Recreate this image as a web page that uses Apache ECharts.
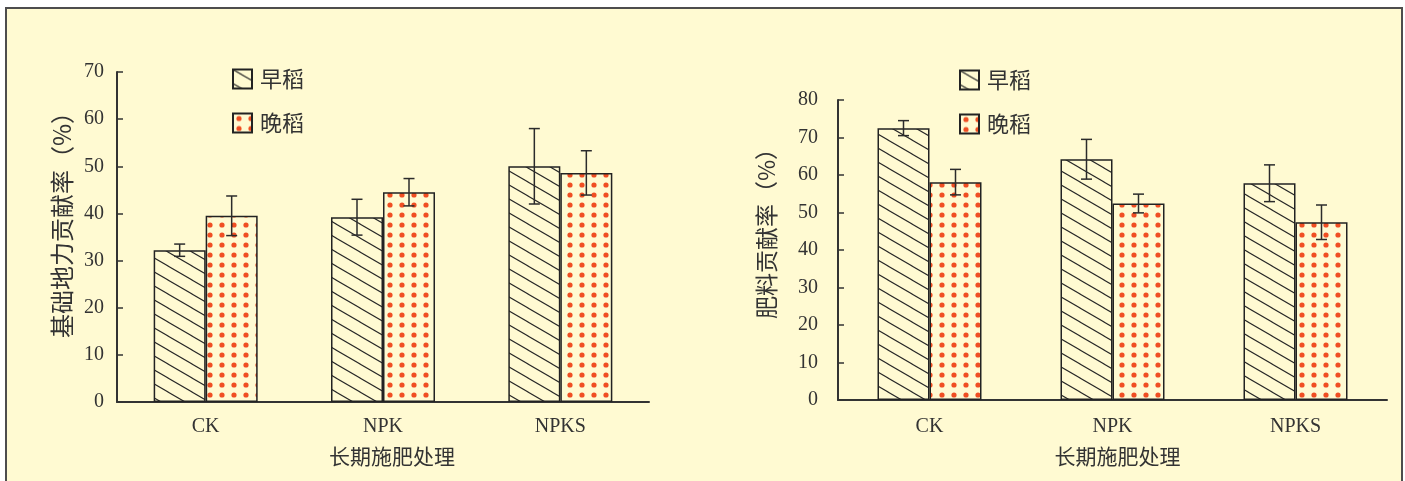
<!DOCTYPE html>
<html>
<head>
<meta charset="utf-8">
<script src="https://cdn.jsdelivr.net/npm/echarts@6/dist/echarts.min.js"></script>
<style>
  html, body { margin: 0; padding: 0; background: #ffffff; }
  #frame { position: absolute; left: 5px; top: 7px; width: 1394px; height: 480px;
           border: 2px solid #4d4d4d; border-bottom: none; background: #FFFAD2; }
  #chart { position: absolute; left: 0; top: 0; width: 1405px; height: 481px; }
</style>
</head>
<body>
<div id="frame"></div>
<div id="chart"></div>
<script>
// ---------------- data ----------------
const categories = ['CK', 'NPK', 'NPKS'];
const seriesNames = ['早稻', '晚稻'];

// left chart: 基础地力贡献率 (%)
const baseEarly    = [32.2, 39.2, 50.0];
const baseEarlyErr = [1.3, 3.8, 8.0];
const baseLate     = [39.5, 44.5, 48.6];
const baseLateErr  = [4.2, 2.9, 4.7];

// right chart: 肥料贡献率 (%)
const fertEarly    = [72.5, 64.2, 57.8];
const fertEarlyErr = [2.0, 5.3, 4.9];
const fertLate     = [58.1, 52.4, 47.4];
const fertLateErr  = [3.4, 2.5, 4.6];

const leftYTitle = '基础地力贡献率（%）';
const rightYTitle = '肥料贡献率（%）';
const xTitle = '长期施肥处理';

// ---------------- patterns ----------------
const BG = '#FFFAD2';
function hatchPattern() {
  const w = 24, h = 14;
  const c = document.createElement('canvas');
  c.width = w; c.height = h;
  const g = c.getContext('2d');
  g.fillStyle = BG; g.fillRect(0, 0, w, h);
  g.strokeStyle = '#262626'; g.lineWidth = 1.1;
  for (let k = -1; k <= 1; k++) {
    g.beginPath();
    g.moveTo(-w, -h + k * h);
    g.lineTo(2 * w, 2 * h + k * h);
    g.stroke();
  }
  return { image: c, repeat: 'repeat' };
}
function dotPattern() {
  const w = 12, h = 10;
  const c = document.createElement('canvas');
  c.width = w; c.height = h;
  const g = c.getContext('2d');
  g.fillStyle = BG; g.fillRect(0, 0, w, h);
  g.fillStyle = '#F04E23';
  g.beginPath(); g.arc(6, 5, 2.6, 0, Math.PI * 2); g.fill();
  return { image: c, repeat: 'repeat' };
}
const hatch = hatchPattern();
const dots = dotPattern();

const BAR_W = 52;
const TXT = '#333333';
const AX = '#333333';

function barSeries(name, data, fill, idx) {
  return {
    name: name, type: 'bar', xAxisIndex: idx, yAxisIndex: idx,
    data: data, barWidth: BAR_W, barGap: '0%',
    itemStyle: { color: fill, borderColor: '#222222', borderWidth: 1.5 },
    emphasis: { disabled: true }, z: 2
  };
}
function errSeries(name, vals, errs, idx, side) {
  return {
    name: name + '误差', type: 'custom', xAxisIndex: idx, yAxisIndex: idx,
    data: vals.map((v, i) => [i, v, errs[i]]),
    encode: { x: 0, y: 1 },
    z: 5, silent: true,
    renderItem: function (params, api) {
      const i = api.value(0), v = api.value(1), e = api.value(2);
      const t = api.coord([i, v + e]);
      const b = api.coord([i, v - e]);
      const x = t[0] + side * BAR_W / 2;
      const cap = 5.5;
      const st = { stroke: '#2b2b2b', lineWidth: 1.5 };
      return {
        type: 'group',
        children: [
          { type: 'line', shape: { x1: x, y1: t[1], x2: x, y2: b[1] }, style: st },
          { type: 'line', shape: { x1: x - cap, y1: t[1], x2: x + cap, y2: t[1] }, style: st },
          { type: 'line', shape: { x1: x - cap, y1: b[1], x2: x + cap, y2: b[1] }, style: st }
        ]
      };
    }
  };
}

function xAxisCfg(idx, labelMargin, nameGap, namePad) {
  return {
    type: 'category', gridIndex: idx, data: categories,
    axisLine: { lineStyle: { color: AX, width: 2 } },
    axisTick: { inside: true, length: 6, lineStyle: { color: AX, width: 1.5 } },
    axisLabel: { color: TXT, fontFamily: 'Liberation Serif', fontSize: 20, margin: labelMargin },
    name: xTitle, nameLocation: 'middle', nameGap: nameGap,
    nameTextStyle: { color: TXT, fontFamily: 'Noto Sans CJK SC', fontSize: 21, padding: namePad }
  };
}
function yAxisCfg(idx, max, name, nameGap, labelMargin, labelSize, nameSize, namePad) {
  return {
    type: 'value', gridIndex: idx, min: 0, max: max, interval: 10,
    splitLine: { show: false },
    axisLine: { show: true, lineStyle: { color: AX, width: 2 } },
    axisTick: { show: true, inside: true, length: 6, lineStyle: { color: AX, width: 1.5 } },
    axisLabel: { color: TXT, fontFamily: 'Liberation Serif', fontSize: labelSize, margin: labelMargin },
    name: name, nameLocation: 'middle', nameGap: nameGap, nameRotate: 90,
    nameTextStyle: { color: TXT, fontFamily: 'Noto Sans CJK SC', fontSize: nameSize, padding: namePad }
  };
}
function legendCfg(left, top) {
  return {
    data: seriesNames.map(n => ({ name: n, icon: 'rect' })),
    orient: 'vertical', left: left, top: top,
    itemWidth: 19, itemHeight: 19, itemGap: 22, selectedMode: false,
    textStyle: { color: TXT, fontFamily: 'Noto Sans CJK SC', fontSize: 22, padding: [0, 0, 0, 3] }
  };
}

const chart = echarts.init(document.getElementById('chart'), null, { renderer: 'canvas' });
chart.setOption({
  backgroundColor: 'transparent',
  animation: false,
  legend: [legendCfg(227, 63), legendCfg(954, 64)],
  grid: [
    { left: 117, top: 72, width: 532, height: 330 },
    { left: 838, top: 100, width: 549, height: 300 }
  ],
  xAxis: [xAxisCfg(0, 15, 44, [0, 0, 0, 18]), xAxisCfg(1, 17, 46, [0, 0, 0, 10])],
  yAxis: [
    yAxisCfg(0, 70, leftYTitle, 43, 13, 20, 24, [0, 0, 0, 36]),
    yAxisCfg(1, 80, rightYTitle, 60, 20, 20, 23, [0, 0, 0, 44])
  ],
  series: [
    barSeries(seriesNames[0], baseEarly, hatch, 0),
    barSeries(seriesNames[1], baseLate, dots, 0),
    barSeries(seriesNames[0], fertEarly, hatch, 1),
    barSeries(seriesNames[1], fertLate, dots, 1),
    errSeries('基础早稻', baseEarly, baseEarlyErr, 0, -1),
    errSeries('基础晚稻', baseLate, baseLateErr, 0, 1),
    errSeries('肥料早稻', fertEarly, fertEarlyErr, 1, -1),
    errSeries('肥料晚稻', fertLate, fertLateErr, 1, 1)
  ]
});
</script>
</body>
</html>
